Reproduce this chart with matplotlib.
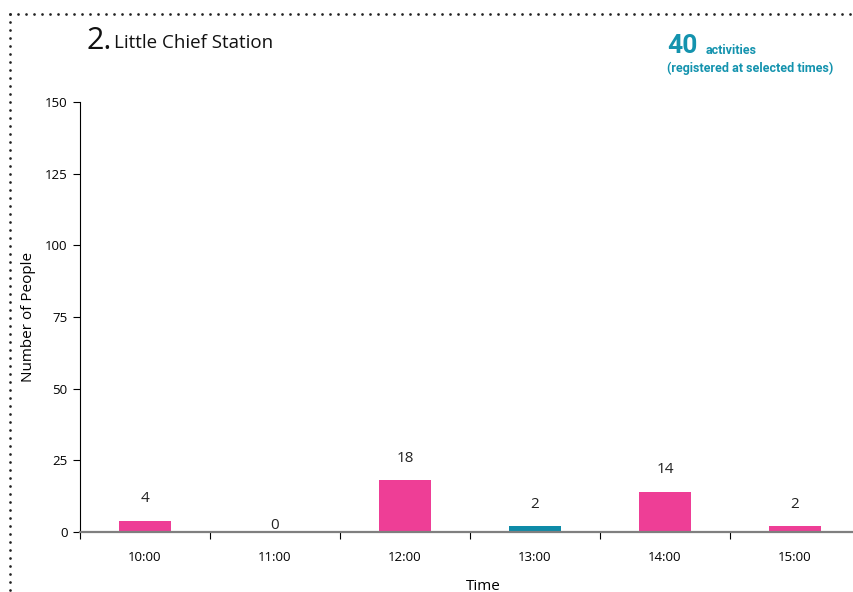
import matplotlib
matplotlib.use("Agg")
import matplotlib.pyplot as plt
from matplotlib.lines import Line2D

times = ["10:00", "11:00", "12:00", "13:00", "14:00", "15:00"]
people = [4, 0, 18, 2, 14, 2]
bar_colors = ["#EE3E96", "#EE3E96", "#EE3E96", "#0E8BA8", "#EE3E96", "#EE3E96"]
yticks = [0, 25, 50, 75, 100, 125, 150]
title_num = "2."
title_text = "Little Chief Station"
total_count = "40"

plt.rcParams['font.family'] = ['Open Sans', 'DejaVu Sans']

fig = plt.figure(figsize=(8.54, 5.92), dpi=100)
ax = fig.add_axes([80/854, 1-532/592, 780/854, 430/592])

x = list(range(len(times)))
ax.bar(x, people, width=0.4, color=bar_colors, zorder=2)
ax.set_xlim(-0.5, len(times) - 0.5)
ax.set_ylim(0, 150)

for xi, v in zip(x, people):
    off = 16 if v > 0 else 5
    ax.annotate(str(v), (xi, v), xytext=(0, off), textcoords="offset points",
                ha="center", va="center", fontsize=11, color="#222222")

# spines
for s in ["top", "right"]:
    ax.spines[s].set_visible(False)
ax.spines["left"].set_color("black")
ax.spines["left"].set_linewidth(0.8)
ax.spines["bottom"].set_color("#7f7f7f")
ax.spines["bottom"].set_linewidth(1.6)
ax.spines["bottom"].set_zorder(3)

ax.set_yticks(yticks)
ax.tick_params(axis="y", length=5, width=0.8, labelsize=9.5, pad=4, colors="black")

ax.set_xticks([i - 0.5 for i in range(len(times) + 1)])
ax.set_xticklabels([])
ax.tick_params(axis="x", which="major", length=5, width=0.8, color="black")
ax.set_xticks(x, minor=True)
ax.set_xticklabels(times, minor=True)
ax.tick_params(axis="x", which="minor", length=0, labelsize=9.5, pad=14)

ax.set_xlabel("Time", fontsize=11)
ax.xaxis.set_label_coords((483-80)/780, -(586-532)/430)
ax.xaxis.label.set_va("center")
ax.set_ylabel("Number of People", fontsize=11)
ax.yaxis.set_label_coords(-(80-28)/780, 0.5)
ax.yaxis.label.set_va("center")

# title
fig.text(87/854, 1-41/592, title_num, fontsize=22, va="center", ha="left", color="#111111")
fig.text(114/854, 1-43/592, title_text, fontsize=13.5, va="center", ha="left", color="#111111")

teal = "#1493AE"
nfam = ['Roboto', 'DejaVu Sans']
fig.text(667/854, 1-46/592, total_count, fontsize=19, fontweight="bold", color=teal,
         va="center", ha="left", family=nfam)
fig.text(706/854, 1-51/592, "activities", fontsize=9, fontweight="bold", color=teal,
         va="center", ha="left", family=nfam)
fig.text(667/854, 1-68/592, "(registered at selected times)", fontsize=9, fontweight="bold",
         color=teal, va="center", ha="left", family=nfam)

# dotted frame
ls = (0, (0.01, 2.87))
fig.add_artist(Line2D([10/854, 1.0], [1-14/592, 1-14/592], transform=fig.transFigure,
                      color="#222222", lw=2, linestyle=ls, dash_capstyle="round"))
fig.add_artist(Line2D([10/854, 10/854], [1-14/592, 0.0], transform=fig.transFigure,
                      color="#222222", lw=2, linestyle=ls, dash_capstyle="round"))

fig.savefig("out.png", dpi=100)
